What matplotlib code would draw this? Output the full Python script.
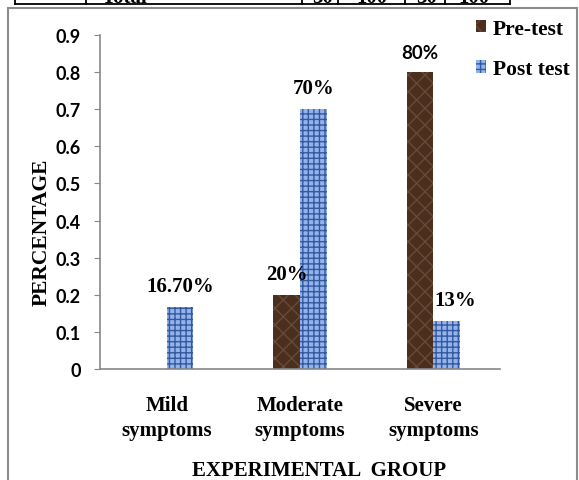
import matplotlib.pyplot as plt
import numpy as np
from matplotlib.patches import Rectangle

plt.rcParams.update({
    "font.family": 'Liberation Serif',
    "font.weight": 'bold',
    "axes.labelweight": 'bold',
    "hatch.linewidth": 1.0,
})

categories = ['Mild\nsymptoms', 'Moderate\nsymptoms', 'Severe\nsymptoms']
pre_test = [0.0, 0.20, 0.80]
post_test = [0.167, 0.70, 0.13]
pre_labels = [None, '20%', '80%']
post_labels = ['16.70%', '70%', '13%']
yticks = [0, 0.1, 0.2, 0.3, 0.4, 0.5, 0.6, 0.7, 0.8, 0.9]
table_row = ['Total', '30', '100', '30', '100']

fig = plt.figure(figsize=(5.79, 4.81), dpi=100)
ax = fig.add_axes([100 / 579, 1 - 370 / 481, 400 / 579, 334 / 481])

x = np.arange(len(categories))
w = 0.2
ax.bar(x - w / 2, pre_test, w, color='#4a2e1e', edgecolor='#6a4935', linewidth=0,
       hatch='xx', label='Pre-test')
ax.bar(x + w / 2, post_test, w, color='#93b3ea', edgecolor='#34599f', linewidth=0,
       hatch='+++', label='Post test')

# data labels; the original mixes fonts and shifts 13% a bit right
nudge = {'13%': 6.5}
sans_labels = {'80%'}
for i in range(len(categories)):
    for lab, xc, val in [(pre_labels[i], x[i] - w / 2, pre_test[i]),
                         (post_labels[i], x[i] + w / 2, post_test[i])]:
        if not lab:
            continue
        fam = 'Lato' if lab in sans_labels else 'Liberation Serif'
        ax.annotate(lab, (xc, val), xytext=(nudge.get(lab, 0), 8),
                    textcoords='offset points', ha='center', va='bottom',
                    fontsize=15 if fam != 'Lato' else 13.5, family=fam)

ax.set_xlim(-0.5, 2.5)
ax.set_ylim(0, 0.9)
ax.set_yticks(yticks)
ax.set_yticklabels([f'{v:g}' for v in yticks], family='Lato', fontweight='bold', fontsize=13)
ax.set_xticks(x)
ax.set_xticklabels(categories, fontsize=15, fontweight='bold', linespacing=1.3)
ax.tick_params(axis='x', length=0, pad=19)
ax.tick_params(axis='y', length=4, color='#888888', pad=10)
for s in ['top', 'right']:
    ax.spines[s].set_visible(False)
for s in ['left', 'bottom']:
    ax.spines[s].set_color('#888888')
    ax.spines[s].set_linewidth(1.2)

ax.set_ylabel('PERCENTAGE', fontsize=15.5)
ax.yaxis.set_label_coords(-0.122, (370 - 232) / 334)
ax.set_xlabel('EXPERIMENTAL  GROUP', fontsize=15)
ax.xaxis.set_label_coords((319 - 100) / 400, (370 - 461) / 334)

fig.legend(loc='upper left', bbox_to_anchor=(467 / 579, 1 - 11 / 481), frameon=False,
           fontsize=15.5, handlelength=0.5, handleheight=0.5, handletextpad=0.3,
           labelspacing=0.95, borderaxespad=0)

# chart frame
fig.patches.append(Rectangle((8 / 579, -0.05), 569 / 579, 1.05 - 9 / 481,
                             transform=fig.transFigure, fill=False,
                             edgecolor='#8c8c8c', linewidth=1.5))

# cut-off table row above the chart
yl = 1 - 5 / 481
fig.add_artist(plt.Line2D([15 / 579, 510 / 579], [yl, yl], transform=fig.transFigure,
                          color='black', linewidth=1.3))
for xv in [15, 86, 302, 338, 405, 445, 510]:
    fig.add_artist(plt.Line2D([xv / 579, xv / 579], [yl, 1.0], transform=fig.transFigure,
                              color='black', linewidth=1.3))
for txt, xc in zip(table_row, [125, 323, 372, 427, 474]):
    fig.text(xc / 579, 1 - 3 / 481, txt, ha='center', va='baseline', fontsize=15)

fig.savefig('out.png', dpi=100)
